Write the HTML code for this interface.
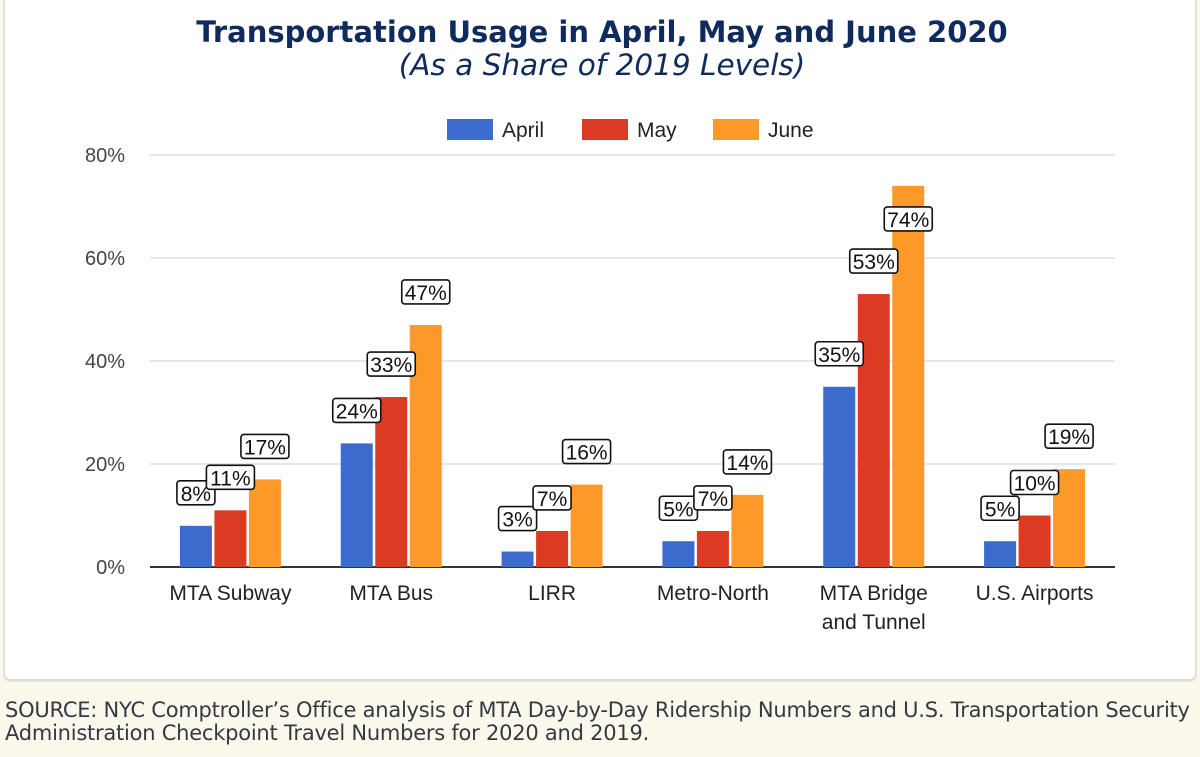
<!DOCTYPE html>
<html><head><meta charset="utf-8"><style>
body{margin:0;width:1200px;height:757px;background:#fcf8ec;overflow:hidden;font-family:"Liberation Sans",sans-serif}
#card{position:absolute;left:4px;top:-4px;width:1190px;height:682px;background:#fff;border:1px solid #d8d8d8;border-radius:6px;box-shadow:0 1px 2px #ccc}
#src{position:absolute;left:5px;top:699px;font-family:"DejaVu Sans","Liberation Sans",sans-serif;font-size:21px;line-height:23px;color:#333a44;letter-spacing:-0.24px;white-space:nowrap}
svg text{font-family:"Liberation Sans",sans-serif}
</style></head><body>
<div id="card"></div>
<svg id="chart" width="1200" height="690" style="position:absolute;left:0;top:0">
<text x="602" y="42" text-anchor="middle" style="font-family:'DejaVu Sans',sans-serif" font-weight="bold" font-size="29" fill="#0f2b5e">Transportation Usage in April, May and June 2020</text>
<text x="602" y="75" text-anchor="middle" style="font-family:'DejaVu Sans',sans-serif" font-style="italic" font-size="29.5" fill="#0f2b5e">(As a Share of 2019 Levels)</text>
<g id="grid"></g><g id="bars"></g><g id="labels"></g><g id="legend"></g>
</svg>
<div id="src">SOURCE: NYC Comptroller’s Office analysis of MTA Day-by-Day Ridership Numbers and U.S. Transportation Security<br>Administration Checkpoint Travel Numbers for 2020 and 2019.</div>
<script>
const categories=[["MTA Subway"],["MTA Bus"],["LIRR"],["Metro-North"],["MTA Bridge","and Tunnel"],["U.S. Airports"]];
const seriesNames=["April","May","June"];
const april=[8,24,3,5,35,5];
const may=[11,33,7,7,53,10];
const june=[17,47,16,14,74,19];
const yTicks=[0,20,40,60,80];
const colors=["#3b6bcc","#dc3a22","#fb9a29"];
const NS="http://www.w3.org/2000/svg";
const x0=150,x1=1115,yBase=567,yTop=155,yMax=80;
const y=v=>yBase-(v/yMax)*(yBase-yTop);
const band=(x1-x0)/categories.length;
const bw=32,step=34.5;
function mk(t,a,p){const e=document.createElementNS(NS,t);for(const k in a)e.setAttribute(k,a[k]);p.appendChild(e);return e;}
const grid=document.getElementById('grid');
yTicks.forEach(t=>{
 const l=mk('line',{x1:x0,x2:x1,y1:y(t),y2:y(t),stroke:t===0?'#333':'#ccc','stroke-width':t===0?2:1},grid);
 
 
 const tx=mk('text',{x:125,y:y(t)+7,'text-anchor':'end','font-size':20,fill:'#444'},grid);
 tx.textContent=t+'%';
 
 
});
const series=[april,may,june];
const bars=document.getElementById('bars'),labels=document.getElementById('labels');
categories.forEach((c,i)=>{
 const cx=x0+band*(i+0.5);
 c.forEach((line,j)=>{
  const t=mk('text',{x:cx,y:600+j*29,'text-anchor':'middle','font-size':21,fill:'#222'},grid);
  t.textContent=line;
  
  
 });
 series.forEach((s,k)=>{
  const bx=cx+(k-1)*step-bw/2, top=y(s[i]);
  const r=mk('rect',{x:bx,y:top,width:bw,height:yBase-top,fill:colors[k]},bars);
  
  
  const txt=s[i]+'%';const w=txt.length>2?48:38;
  let by=top-45; if(by<yTop) by=top+21;
  const g=mk('g',{},labels);
  
  
  mk('rect',{x:bx+bw/2-w/2,y:by,width:w,height:24,rx:3,fill:'#fff',stroke:'#111','stroke-width':1.6},g);
  const lt=mk('text',{x:bx+bw/2,y:by+20,'text-anchor':'middle','font-size':21,fill:'#111'},g);
  lt.textContent=txt;
 });
});
const lg=document.getElementById('legend');
const lx=[447,582,713];
seriesNames.forEach((n,k)=>{
 const g=mk('g',{},lg);
 
 
 mk('rect',{x:lx[k],y:119,width:46,height:21,fill:colors[k]},g);
 const t=mk('text',{x:lx[k]+55,y:137,'font-size':21,fill:'#222'},g);
 t.textContent=n;
});
</script>
</body></html>
